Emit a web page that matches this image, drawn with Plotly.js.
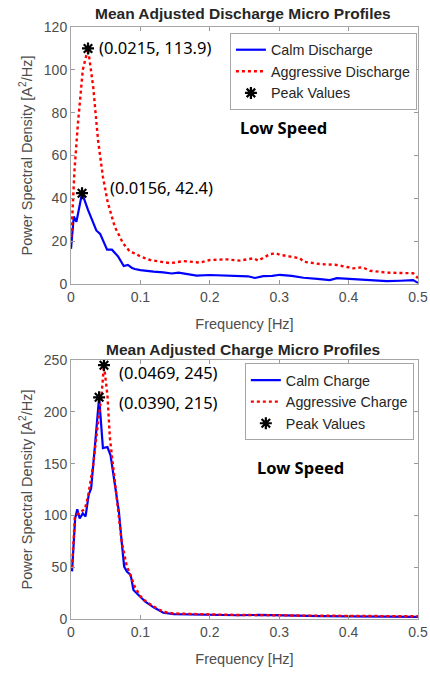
<!DOCTYPE html>
<html>
<head>
<meta charset="utf-8">
<script src="https://cdn.plot.ly/plotly-3.0.1.min.js"></script>
<style>html,body{margin:0;padding:0;background:#fff;}#chart{width:430px;height:673px;}</style>
</head>
<body>
<div id="chart"></div>
<script>
// ---- Top panel: Mean Adjusted Discharge Micro Profiles ----
const dischargeTitle = "Mean Adjusted Discharge Micro Profiles";
const calmDischargeFreq = [0, 0.004, 0.0078, 0.0117, 0.0159, 0.0245, 0.03, 0.0365, 0.042, 0.047, 0.052, 0.059, 0.063, 0.068, 0.076, 0.082, 0.088, 0.092, 0.1, 0.11, 0.119, 0.133, 0.145, 0.155, 0.165, 0.181, 0.2, 0.215, 0.243, 0.255, 0.265, 0.277, 0.29, 0.301, 0.318, 0.335, 0.355, 0.373, 0.383, 0.4, 0.431, 0.455, 0.475, 0.493, 0.5];
const calmDischargePSD  = [16.4, 31.5, 29, 35, 42.4, 34.6, 30, 25, 23.4, 20, 16, 16, 14.5, 12.8, 8.4, 8.9, 7.5, 7, 6.5, 6.3, 5.8, 5.4, 4.9, 5.3, 4.8, 3.9, 4.2, 4.0, 3.7, 3.6, 2.8, 3.7, 3.8, 4.3, 3.8, 2.9, 2.4, 1.8, 2.7, 2.3, 1.9, 1.3, 1.5, 1.8, 0.5];
const aggDischargeFreq = [0, 0.005, 0.01, 0.017, 0.0245, 0.032, 0.039, 0.046, 0.053, 0.063, 0.075, 0.085, 0.092, 0.1, 0.114, 0.128, 0.143, 0.162, 0.186, 0.2, 0.224, 0.243, 0.263, 0.27, 0.287, 0.296, 0.301, 0.316, 0.33, 0.335, 0.359, 0.383, 0.407, 0.42, 0.431, 0.455, 0.475, 0.493, 0.5];
const aggDischargePSD  = [19, 53, 75, 100, 110, 92, 67, 50, 38, 26.8, 19, 15.1, 14.3, 12.8, 11.2, 10.4, 9.7, 10.7, 10, 11.2, 11.5, 10.9, 12, 10.9, 14, 14.3, 13.6, 12.8, 12, 10.4, 9.3, 8.9, 7.3, 7.8, 6.2, 5.3, 5.0, 5.0, 2.7];
const dischargePeakFreq = [0.0159, 0.0245];
const dischargePeakPSD  = [42.4, 110];
const dischargePeakLabels = ["(0.0156, 42.4)", "(0.0215, 113.9)"];

// ---- Bottom panel: Mean Adjusted Charge Micro Profiles ----
const chargeTitle = "Mean Adjusted Charge Micro Profiles";
const calmChargeFreq = [0.0015, 0.006, 0.009, 0.0125, 0.017, 0.021, 0.0255, 0.029, 0.035, 0.0405, 0.046, 0.0525, 0.057, 0.063, 0.069, 0.073, 0.0766, 0.0805, 0.086, 0.09, 0.0997, 0.107, 0.119, 0.133, 0.148, 0.167, 0.19, 0.21, 0.24, 0.27, 0.3, 0.33, 0.36, 0.4, 0.43, 0.46, 0.5];
const calmChargePSD  = [46, 97, 106, 97, 102, 99, 120, 126, 171, 214, 165, 166, 158, 132.5, 103.6, 74.6, 50.5, 45.7, 42.5, 28, 21, 16.7, 11.3, 6, 4.8, 4.5, 3.8, 4.0, 3.6, 3.9, 3.3, 3.0, 2.8, 2.5, 2.7, 2.3, 2.0];
const aggChargeFreq = [0.0015, 0.0055, 0.012, 0.02, 0.0245, 0.032, 0.039, 0.044, 0.0475, 0.0525, 0.056, 0.063, 0.073, 0.08, 0.087, 0.092, 0.1, 0.107, 0.119, 0.133, 0.148, 0.167, 0.19, 0.21, 0.24, 0.27, 0.3, 0.33, 0.36, 0.4, 0.43, 0.46, 0.5];
const aggChargePSD  = [49, 98, 103, 106, 118, 149, 190, 216, 245, 216, 175, 132, 75, 52, 39, 31, 22, 17.5, 12, 7, 5.3, 4.8, 4.2, 4.3, 3.9, 4.0, 3.6, 3.3, 3.2, 2.9, 3.0, 2.8, 2.6];
const chargePeakFreq = [0.0475, 0.0405];
const chargePeakPSD  = [245, 214];
const chargePeakLabels = ["(0.0469, 245)", "(0.0390, 215)"];

const speedLabel = "Low Speed";
const xTitle = "Frequency [Hz]";
const yTitle = "Power Spectral Density [A<sup>2</sup>/Hz]";

const BLUE = "#0000ff", RED = "#ff0000";

const traces = [
  {x: calmDischargeFreq, y: calmDischargePSD, type: "scatter", mode: "lines", name: "Calm Discharge",
   line: {color: BLUE, width: 2.2}, xaxis: "x", yaxis: "y", legend: "legend"},
  {x: aggDischargeFreq, y: aggDischargePSD, type: "scatter", mode: "lines", name: "Aggressive Discharge",
   line: {color: RED, width: 2.4, dash: "dot"}, xaxis: "x", yaxis: "y", legend: "legend"},
  {x: dischargePeakFreq, y: dischargePeakPSD, type: "scatter", mode: "markers", name: "Peak Values",
   marker: {symbol: "asterisk-open", size: 10, color: "#000", line: {color: "#000", width: 2.2}},
   xaxis: "x", yaxis: "y", legend: "legend"},
  {x: calmChargeFreq, y: calmChargePSD, type: "scatter", mode: "lines", name: "Calm Charge",
   line: {color: BLUE, width: 2.2}, xaxis: "x2", yaxis: "y2", legend: "legend2"},
  {x: aggChargeFreq, y: aggChargePSD, type: "scatter", mode: "lines", name: "Aggressive Charge",
   line: {color: RED, width: 2.4, dash: "dot"}, xaxis: "x2", yaxis: "y2", legend: "legend2"},
  {x: chargePeakFreq, y: chargePeakPSD, type: "scatter", mode: "markers", name: "Peak Values",
   marker: {symbol: "asterisk-open", size: 10, color: "#000", line: {color: "#000", width: 2.2}},
   xaxis: "x2", yaxis: "y2", legend: "legend2"}
];

const tickFont = {family: "Liberation Sans, Arial, sans-serif", size: 14, color: "#4d4d4d"};
const titleFont = {family: "Liberation Sans, Arial, sans-serif", size: 14.5, color: "#4d4d4d"};
function xAxis(anchor) {
  return {anchor: anchor, domain: [0, 1], range: [0, 0.5], dtick: 0.1, tick0: 0,
    ticks: "inside", ticklen: 4, tickcolor: "#999", showline: true, linecolor: "#a6a6a6",
    linewidth: 1, mirror: "ticks", showgrid: false, zeroline: false, tickfont: tickFont,
    title: {text: xTitle, font: titleFont, standoff: 15}};
}
function yAxis(anchor, domain, max, dtick) {
  return {anchor: anchor, domain: domain, range: [0, max], dtick: dtick, tick0: 0,
    ticks: "inside", ticklen: 4, tickcolor: "#999", showline: true, linecolor: "#a6a6a6",
    linewidth: 1, mirror: "ticks", showgrid: false, zeroline: false, tickfont: tickFont,
    title: {text: yTitle, font: titleFont, standoff: 7}};
}
const legendStyle = {xanchor: "left", yanchor: "top", bgcolor: "#fff", bordercolor: "#a6a6a6",
  borderwidth: 1, font: {family: "Liberation Sans, Arial, sans-serif", size: 14.3, color: "#262626"},
  itemwidth: 30, tracegroupgap: 0};

const annFont = {family: "Noto Sans, sans-serif", size: 16.5, color: "#000"};
const titleAnnFont = {family: "Liberation Sans, Arial, sans-serif", size: 15.5, color: "#262626"};
const annotations = [
  {xref: "paper", yref: "paper", x: 0.496, y: 1.022, yanchor: "middle", text: "<b>" + dischargeTitle + "</b>", showarrow: false, font: titleAnnFont},
  {xref: "paper", yref: "paper", x: 0.496, y: 0.456, yanchor: "middle", text: "<b>" + chargeTitle + "</b>", showarrow: false, font: titleAnnFont},
  {xref: "x", yref: "y", x: 0.0375, y: 110.3, xanchor: "left", yanchor: "middle", text: dischargePeakLabels[1], showarrow: false, font: annFont},
  {xref: "x", yref: "y", x: 0.0533, y: 44.9, xanchor: "left", yanchor: "middle", text: dischargePeakLabels[0], showarrow: false, font: annFont},
  {xref: "x", yref: "y", x: 0.3055, y: 72.9, yanchor: "middle", text: "<b>" + speedLabel + "</b>", showarrow: false, font: annFont},
  {xref: "x2", yref: "y2", x: 0.0665, y: 237.5, xanchor: "left", yanchor: "middle", text: chargePeakLabels[0], showarrow: false, font: annFont},
  {xref: "x2", yref: "y2", x: 0.0665, y: 208.5, xanchor: "left", yanchor: "middle", text: chargePeakLabels[1], showarrow: false, font: annFont},
  {xref: "x2", yref: "y2", x: 0.331, y: 146.7, yanchor: "middle", text: "<b>" + speedLabel + "</b>", showarrow: false, font: annFont}
];

const layout = {
  width: 430, height: 673, paper_bgcolor: "#fff", plot_bgcolor: "#fff",
  margin: {l: 71, r: 12, t: 27, b: 54},
  showlegend: true,
  xaxis: xAxis("y"),
  yaxis: yAxis("x", [0.5659, 1], 120, 20),
  xaxis2: xAxis("y2"),
  yaxis2: yAxis("x2", [0, 0.4375], 250, 50),
  legend: Object.assign({x: 0.458, y: 0.99}, legendStyle),
  legend2: Object.assign({x: 0.501, y: 0.432}, legendStyle),
  annotations: annotations
};

Plotly.newPlot("chart", traces, layout, {displayModeBar: false, staticPlot: true});
</script>
</body>
</html>
